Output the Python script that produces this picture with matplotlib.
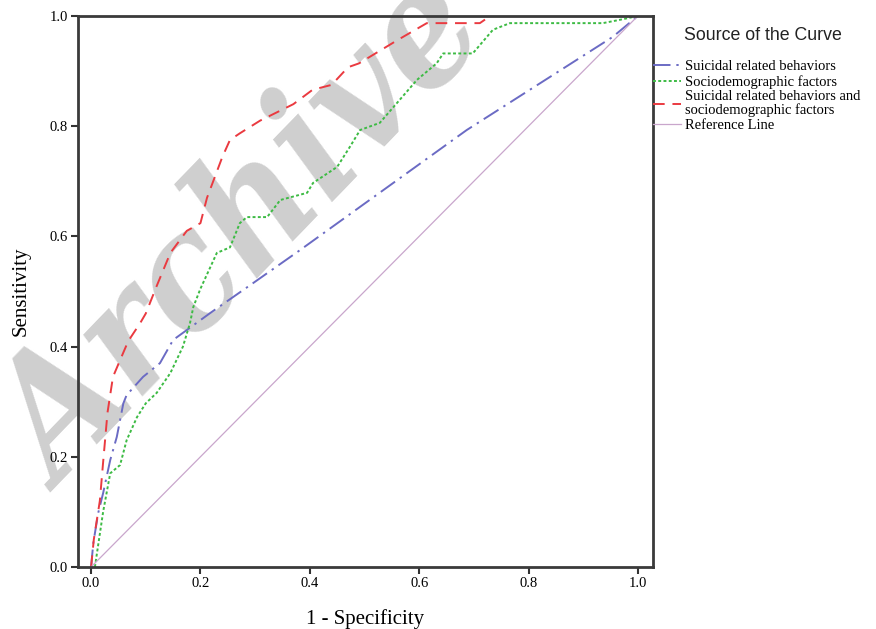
import matplotlib
matplotlib.use("Agg")
import matplotlib.pyplot as plt

# ROC curves (x = 1 - specificity, y = sensitivity)
combined_x = [0, 0.005, 0.016, 0.022, 0.03, 0.04, 0.055, 0.068, 0.09, 0.1, 0.12, 0.145,
              0.175, 0.2, 0.212, 0.24, 0.254, 0.272, 0.309, 0.37, 0.405, 0.44, 0.47,
              0.49, 0.56, 0.614, 0.711, 0.73, 1.0]
combined_y = [0, 0.05, 0.12, 0.19, 0.28, 0.345, 0.38, 0.41, 0.443, 0.46, 0.51, 0.57,
              0.61, 0.624, 0.67, 0.744, 0.775, 0.787, 0.81, 0.84, 0.866, 0.875, 0.907,
              0.914, 0.956, 0.987, 0.987, 1.0, 1.0]

socio_x = [0.007, 0.022, 0.035, 0.053, 0.065, 0.084, 0.1, 0.12, 0.145, 0.168, 0.181,
           0.187, 0.2, 0.23, 0.254, 0.272, 0.285, 0.322, 0.346, 0.395, 0.406, 0.45,
           0.473, 0.492, 0.528, 0.596, 0.632, 0.644, 0.698, 0.735, 0.766, 0.936,
           0.967, 1.0]
socio_y = [0, 0.10, 0.17, 0.185, 0.23, 0.272, 0.297, 0.316, 0.352, 0.40, 0.443,
           0.472, 0.505, 0.57, 0.58, 0.624, 0.635, 0.635, 0.666, 0.679, 0.697, 0.726,
           0.762, 0.793, 0.806, 0.884, 0.914, 0.932, 0.932, 0.975, 0.987, 0.987,
           0.993, 1.0]

suicidal_x = [0, 0.004, 0.013, 0.022, 0.035, 0.047, 0.059, 0.065, 0.095, 0.126, 0.15,
              0.175, 0.218, 0.296, 0.382, 0.687, 0.954, 1.0]
suicidal_y = [0, 0.043, 0.098, 0.134, 0.194, 0.236, 0.297, 0.312, 0.345, 0.37, 0.412,
              0.43, 0.461, 0.515, 0.575, 0.793, 0.962, 1.0]

ref_x = [0, 1]
ref_y = [0, 1]

labels = ["Suicidal related behaviors", "Sociodemographic factors",
          "Suicidal related behaviors and\nsociodemographic factors", "Reference Line"]
ticks = [0.0, 0.2, 0.4, 0.6, 0.8, 1.0]

SERIF = "Liberation Serif"
SANS = "Liberation Sans"

fig = plt.figure(figsize=(8.76, 6.29), dpi=100)
ax = fig.add_axes([0.089, 0.0986, 0.656, 0.876])
ax.set_facecolor("none")

# watermark behind the axes
fig.text(246 / 876, 1 - 236 / 629, "Archive", fontsize=118, family="DejaVu Serif",
         weight="bold", style="italic", stretch="condensed", color="#cfcfcf",
         rotation=46, ha="center", va="center", rotation_mode="anchor", zorder=-1)

l1, = ax.plot(suicidal_x, suicidal_y, color="#6b6bc4", lw=1.4,
              dashes=(9, 3, 1.2, 3))
l2, = ax.plot(socio_x, socio_y, color="#3dbb44", lw=1.4, dashes=(1.5, 1.2))
l3, = ax.plot(combined_x, combined_y, color="#ea3a40", lw=1.4, dashes=(6, 4))
l4, = ax.plot(ref_x, ref_y, color="#c9a6cc", lw=0.9)

ax.set_xlim(-0.024, 1.027)
ax.set_ylim(0, 1)
ax.set_xticks(ticks)
ax.set_yticks(ticks)
ax.set_xticklabels(["{:.1f}".format(t) for t in ticks], family=SERIF, fontsize=10.5)
ax.set_yticklabels(["{:.1f}".format(t) for t in ticks], family=SERIF, fontsize=10.5)
ax.tick_params(direction="out", length=5, width=1.5, color="#333333", pad=2)
for sp in ax.spines.values():
    sp.set_linewidth(2)
    sp.set_color("#3a3a3a")

ax.set_xlabel("1 - Specificity", family=SERIF, fontsize=15, labelpad=14)
ax.set_ylabel("Sensitivity", family=SERIF, fontsize=15, labelpad=14)

fig.text(684 / 876, 1 - 36 / 629, "Source of the Curve", family=SANS,
         fontsize=12.8, va="center", ha="left", color="#222222")
leg = fig.legend([l1, l2, l3, l4], labels, loc="upper left",
                 bbox_to_anchor=(653 / 876, 1 - 60 / 629), frameon=False,
                 prop={"family": SERIF, "size": 10.5}, handlelength=1.9,
                 handletextpad=0.3, labelspacing=0.12, borderpad=0, borderaxespad=0)
leg.get_texts()[2].set_linespacing(1.0)

fig.savefig("out.png", dpi=100)
